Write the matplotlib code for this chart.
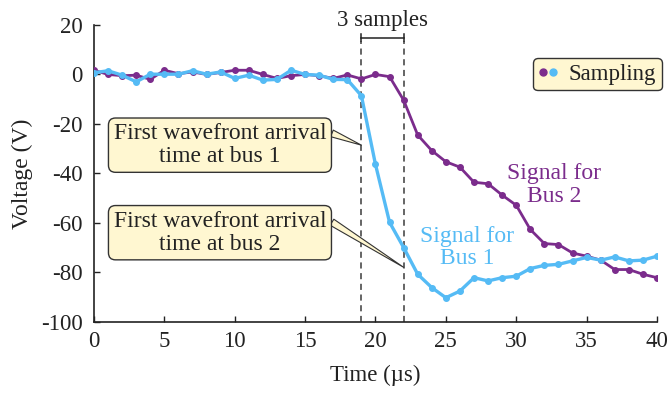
import matplotlib
matplotlib.use("Agg")
import matplotlib.pyplot as plt
from matplotlib.lines import Line2D
from matplotlib.legend_handler import HandlerTuple

plt.rcParams['font.family'] = ['Liberation Serif', 'DejaVu Serif']
plt.rcParams['axes.unicode_minus'] = False

# ---- data ----
time_us = list(range(0, 41))
bus1 = [0.7, 1.5, -0.3, -3.0, 0.1, 0.1, 0.1, 1.5, 0.1, 1.0,
        -1.6, -0.3, -2.3, -2.0, 1.7, 0.0, -0.3, -2.0, -2.1, -8.6,
        -36.4, -59.8, -70.0, -80.8, -86.2, -90.3, -87.6, -82.2, -83.5, -82.2,
        -81.6, -78.5, -77.2, -76.8, -75.4, -74.0, -75.1, -73.8, -75.4, -75.1,
        -73.5]
bus2 = [1.7, 0.0, -0.5, -0.3, -2.0, 1.7, 0.3, 1.0, 0.0, 0.8,
        1.7, 1.7, 0.0, -1.6, -0.5, 0.0, -0.5, -1.6, -0.2, -1.8,
        0.0, -0.9, -10.4, -24.5, -30.8, -35.3, -37.5, -43.6, -44.2, -48.8,
        -52.9, -62.7, -68.4, -68.8, -72.2, -73.5, -75.1, -78.9, -78.9, -80.8,
        -82.2]
arrival_bus1 = 19
arrival_bus2 = 22
x_ticks = [0, 5, 10, 15, 20, 25, 30, 35, 40]
y_ticks = [20, 0, -20, -40, -60, -80, -100]

c_bus1 = '#55BBF5'
c_bus2 = '#7B2C8C'
c_box = '#FFF7D1'
c_dash = '#3a3a3a'
c_txt = '#222222'

fig = plt.figure(figsize=(6.68, 3.93), dpi=100)
ax = fig.add_axes([0.1407, 0.1814, 0.8428, 0.755])

ax.plot(time_us, bus2, color=c_bus2, lw=2.0, marker='o', ms=4, zorder=3)
ax.plot(time_us, bus1, color=c_bus1, lw=2.4, marker='o', ms=4, zorder=4)

ax.set_xlim(0, 40)
ax.set_ylim(-100, 20)
ax.set_xticks(x_ticks)
ax.set_yticks(y_ticks)
ax.tick_params(direction='in', length=4, width=1, labelsize=16.5, colors=c_txt)
ax.tick_params(axis='x', pad=7)
ax.tick_params(axis='y', pad=8)
for s in ['top', 'right']:
    ax.spines[s].set_visible(False)
for s in ['left', 'bottom']:
    ax.spines[s].set_linewidth(1.2)
    ax.spines[s].set_color(c_txt)

ax.set_xlabel('Time (µs)', fontsize=16.5, color=c_txt, labelpad=9)
ax.set_ylabel('Voltage (V)', fontsize=17, color=c_txt, labelpad=6)

# dashed vertical lines
top_dash = 13.5
for xv in (arrival_bus1, arrival_bus2):
    ax.plot([xv, xv], [-100, top_dash], ls=(0, (4, 3)), color=c_dash, lw=1.1,
            zorder=2, clip_on=False)

# bracket
yb = 14.9
ax.plot([arrival_bus1, arrival_bus2], [yb, yb], color=c_txt, lw=1.1, clip_on=False)
for xv in (arrival_bus1, arrival_bus2):
    ax.plot([xv, xv], [13.5, 16.4], color=c_txt, lw=1.1, clip_on=False)
ax.text((arrival_bus1 + arrival_bus2) / 2, 22, '3 samples', ha='center', va='center',
        fontsize=16.5, color=c_txt, clip_on=False)

# annotation boxes
bbox = dict(boxstyle='round,pad=0.22,rounding_size=0.3', fc=c_box, ec='#333333', lw=1.0)


def arrow_props():
    return dict(arrowstyle='wedge,tail_width=0.3,shrink_factor=0.5', fc=c_box,
                ec='#333333', lw=0.8, shrinkA=0, shrinkB=0, relpos=(1.0, 0.82))


ax.annotate('First wavefront arrival\ntime at bus 1', xy=(arrival_bus1, -28.6),
            xytext=(8.95, -28.6), ha='center', va='center', fontsize=17,
            color=c_txt, bbox=bbox, arrowprops=arrow_props(), linespacing=1.12, zorder=5)
ax.annotate('First wavefront arrival\ntime at bus 2', xy=(arrival_bus2, -78.0),
            xytext=(8.95, -64.0), ha='center', va='center', fontsize=17,
            color=c_txt, bbox=bbox, arrowprops=arrow_props(), linespacing=1.12, zorder=5)

# series labels
ax.text(32.7, -44.8, 'Signal for\nBus 2', color=c_bus2, fontsize=17, ha='center',
        va='center', linespacing=1.12)
ax.text(26.5, -70.0, 'Signal for\nBus 1', color=c_bus1, fontsize=17, ha='center',
        va='center', linespacing=1.12)

# legend
h1 = Line2D([], [], ls='none', marker='o', ms=5, color=c_bus2)
h2 = Line2D([], [], ls='none', marker='o', ms=5, color=c_bus1)
leg = ax.legend([(h1, h2)], ['Sampling'], handler_map={tuple: HandlerTuple(ndivide=None, pad=0.05)},
                loc='upper right', bbox_to_anchor=(1.009, 0.889), fontsize=16.5,
                frameon=True, fancybox=True, handlelength=0.8, handletextpad=0.5,
                borderpad=0.25, borderaxespad=0)
fr = leg.get_frame()
fr.set_facecolor(c_box)
fr.set_edgecolor('#333333')
fr.set_linewidth(1.0)
fr.set_alpha(1)
for t in leg.get_texts():
    t.set_color(c_txt)

fig.savefig('out.png', dpi=100)
